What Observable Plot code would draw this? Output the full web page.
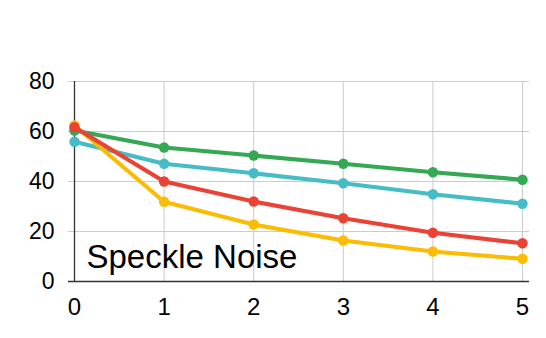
<!DOCTYPE html>
<html>
<head>
<meta charset="utf-8">
<script src="https://cdn.jsdelivr.net/npm/d3@7"></script>
<script src="https://cdn.jsdelivr.net/npm/@observablehq/plot@0.6"></script>
<style>
  html, body { margin: 0; padding: 0; background: #fff; }
  #chart svg { display: block; }
</style>
</head>
<body>
<div id="chart"></div>
<script>
const steps = [0, 1, 2, 3, 4, 5];
const yTicks = [0, 20, 40, 60, 80];
const title = "Speckle Noise";
const seriesNames = ["green", "cyan", "red", "yellow"];
const seriesColors = ["#34A853", "#46BDC6", "#EA4335", "#FBBC04"];
const greenValues = [60.4, 53.6, 50.4, 47.1, 43.7, 40.7];
const cyanValues = [55.9, 47.1, 43.3, 39.3, 34.9, 31.1];
const redValues = [61.7, 40.0, 32.0, 25.3, 19.5, 15.3];
const yellowValues = [62.4, 31.9, 22.8, 16.4, 12.0, 9.1];

const allValues = [greenValues, cyanValues, redValues, yellowValues];
const data = [];
seriesNames.forEach((name, i) => {
  steps.forEach((s, j) => data.push({series: name, x: s, y: allValues[i][j]}));
});
const order = ["green", "cyan", "yellow", "red"];

const marks = [
  Plot.ruleY(yTicks.filter(d => d > 0), {stroke: "#cccccc", strokeWidth: 1, insetLeft: -6, insetRight: -7}),
  Plot.ruleX(steps.filter(d => d > 0), {stroke: "#cccccc", strokeWidth: 1}),
  Plot.ruleX([0], {stroke: "#333333", strokeWidth: 1.3}),
  Plot.ruleY([0], {stroke: "#333333", strokeWidth: 1.3, insetLeft: -6, insetRight: -7}),
  Plot.text([title], {frameAnchor: "bottom-left", dx: 12, dy: -14, text: d => d, fontSize: 33, fill: "#000", textAnchor: "start", lineAnchor: "bottom"}),
];
for (const name of order) {
  const subset = data.filter(d => d.series === name);
  const color = seriesColors[seriesNames.indexOf(name)];
  marks.push(Plot.line(subset, {x: "x", y: "y", stroke: color, strokeWidth: 4.2, strokeLinejoin: "round", strokeLinecap: "round"}));
  marks.push(Plot.dot(subset, {x: "x", y: "y", fill: color, r: 5.2}));
}
marks.push(Plot.axisY({ticks: yTicks, tickSize: 0, tickPadding: 20, fontSize: 23, label: null}));
marks.push(Plot.axisX({ticks: steps, tickSize: 0, tickPadding: 16, fontSize: 24, label: null, tickFormat: d => String(d)}));

const chart = Plot.plot({
  width: 546,
  height: 338,
  marginLeft: 74,
  marginRight: 24,
  marginTop: 81,
  marginBottom: 57,
  style: {fontFamily: "'Liberation Sans', Arial, sans-serif", color: "#000", background: "#fff"},
  x: {domain: [0, 5]},
  y: {domain: [0, 80]},
  marks
});
document.getElementById("chart").appendChild(chart);
</script>
</body>
</html>
